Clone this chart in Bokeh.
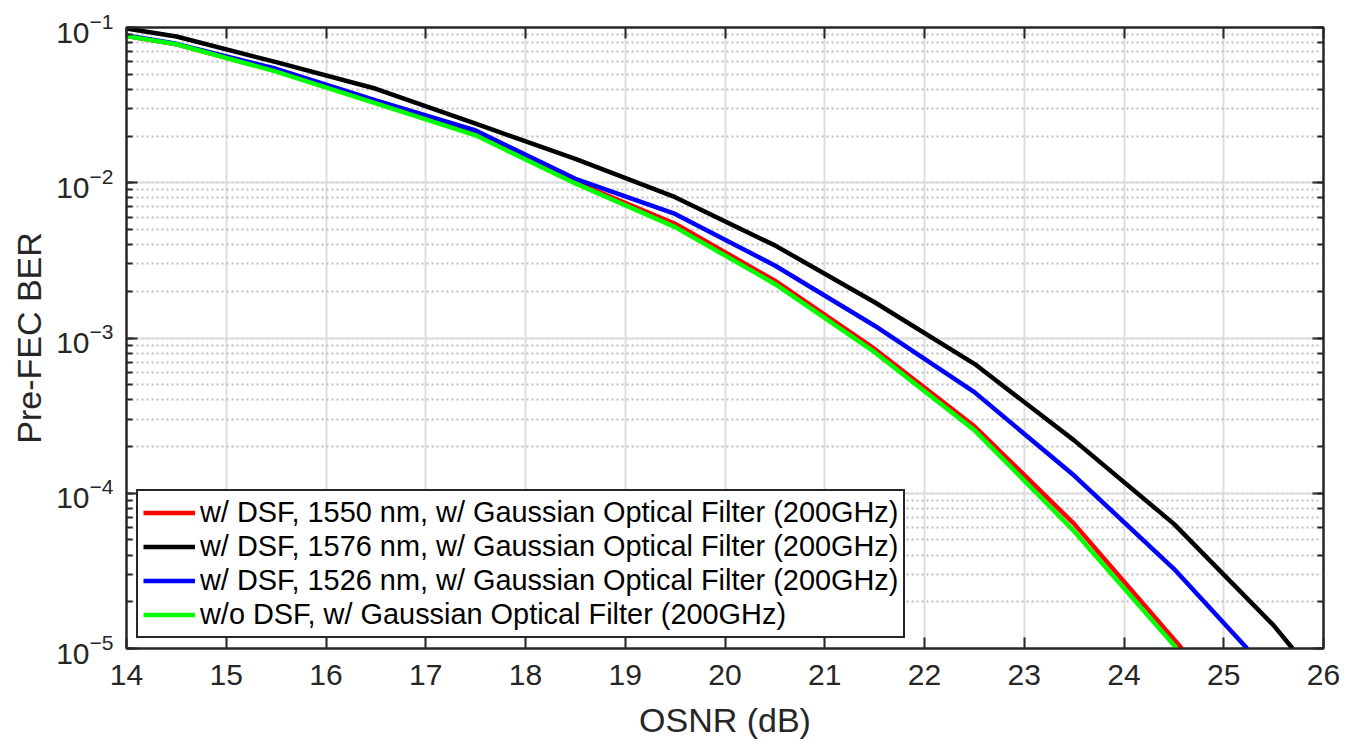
from bokeh.plotting import figure
from bokeh.models import (Range1d, LinearAxis, LogAxis, SingleIntervalTicker, LogTicker,
                          Legend, LegendItem, CustomJSTickFormatter)
from bokeh.embed import file_html
from bokeh.resources import INLINE

# ---- data ----
osnr_red = [14, 14.5, 15.5, 16.5, 17.5, 18.5, 19.5, 20.5, 21.5, 22.5, 23.5, 24.58]
ber_red = [0.088, 0.078, 0.0525, 0.0328, 0.0205, 0.0101, 0.00544, 0.00234, 8.5e-4, 2.7e-4, 6.35e-5, 1e-5]

osnr_black = [14, 14.5, 15.5, 16.5, 17.5, 18.5, 19.5, 20.5, 21.5, 22.5, 23.5, 24.5, 25.5, 25.69]
ber_black = [0.0985, 0.0875, 0.0598, 0.0403, 0.0240, 0.01426, 0.00807, 0.00395, 0.0017, 6.82e-4, 2.19e-4, 6.35e-5, 1.41e-5, 1e-5]

osnr_blue = [14, 14.5, 15.5, 16.5, 17.5, 18.5, 19.5, 20.5, 21.5, 22.5, 23.5, 24.5, 25.235]
ber_blue = [0.089, 0.0785, 0.0542, 0.0339, 0.0217, 0.0106, 0.0063, 0.00293, 0.0012, 4.48e-4, 1.30e-4, 3.26e-5, 1e-5]

osnr_green = [14, 14.5, 15.5, 16.5, 17.5, 18.5, 19.5, 20.5, 21.5, 22.5, 23.5, 24.53]
ber_green = [0.088, 0.078, 0.052, 0.0325, 0.0202, 0.0099, 0.00518, 0.00223, 8.1e-4, 2.55e-4, 5.7e-5, 1e-5]

labels = [
    "w/ DSF, 1550 nm, w/ Gaussian Optical Filter (200GHz)",
    "w/ DSF, 1576 nm, w/ Gaussian Optical Filter (200GHz)",
    "w/ DSF, 1526 nm, w/ Gaussian Optical Filter (200GHz)",
    "w/o DSF, w/ Gaussian Optical Filter (200GHz)",
]
colors = ["#ff0000", "#000000", "#0000ff", "#00ff00"]

FONT = "Liberation Sans"
DARK = "#262626"

p = figure(width=1346, height=745, y_axis_type="log",
           x_range=Range1d(14, 26), y_range=Range1d(1e-5, 1e-1),
           output_backend="svg", toolbar_location=None,
           min_border_left=126, min_border_right=23, min_border_top=27, min_border_bottom=97)
p.background_fill_color = "white"
p.border_fill_color = "white"
p.outline_line_color = DARK
p.outline_line_width = 2

series = [(osnr_red, ber_red), (osnr_black, ber_black), (osnr_blue, ber_blue), (osnr_green, ber_green)]
renderers = []
for (xs, ys), c in zip(series, colors):
    r = p.line(xs, ys, line_color=c, line_width=4.5)
    renderers.append(r)

# axes
p.xaxis.ticker = SingleIntervalTicker(interval=1)
for ax in p.xaxis:
    ax.axis_label = "OSNR (dB)"
for ax in p.yaxis:
    ax.axis_label = "Pre-FEC BER"

for ax in list(p.xaxis) + list(p.yaxis):
    ax.axis_label_text_font = FONT
    ax.axis_label_text_font_size = "34px"
    ax.axis_label_text_font_style = "normal"
    ax.axis_label_text_color = DARK
    ax.major_label_text_font = FONT
    ax.major_label_text_font_size = "30px"
    ax.major_label_text_color = DARK
    ax.axis_line_color = DARK
    ax.axis_line_width = 2
    ax.major_tick_line_color = DARK
    ax.major_tick_line_width = 2
    ax.major_tick_in = 11
    ax.major_tick_out = 0
    ax.minor_tick_line_color = DARK
    ax.minor_tick_line_width = 2
    ax.minor_tick_in = 6
    ax.minor_tick_out = 0

for ax in p.xaxis:
    ax.minor_tick_line_color = None
    ax.major_label_standoff = 16
    ax.axis_label_standoff = 13
for ax in p.yaxis:
    ax.major_label_standoff = 13
    ax.axis_label_standoff = 5

# top and right axes (ticks only)
top = LinearAxis(ticker=SingleIntervalTicker(interval=1),
                 formatter=CustomJSTickFormatter(code="return '';"),
                 major_label_standoff=0, axis_line_color=DARK, axis_line_width=2,
                 major_tick_line_color=DARK, major_tick_line_width=2,
                 major_tick_in=11, major_tick_out=0, minor_tick_line_color=None)
right = LogAxis(ticker=LogTicker(), formatter=CustomJSTickFormatter(code="return '';"),
                major_label_standoff=0, axis_line_color=DARK, axis_line_width=2,
                major_tick_line_color=DARK, major_tick_line_width=2,
                major_tick_in=11, major_tick_out=0,
                minor_tick_line_color=DARK, minor_tick_line_width=2,
                minor_tick_in=6, minor_tick_out=0)
p.add_layout(top, "above")
p.add_layout(right, "right")

# grids
p.xgrid.grid_line_color = "#dedede"
p.xgrid.grid_line_width = 2
p.ygrid.grid_line_color = "#dedede"
p.ygrid.grid_line_width = 2
p.ygrid.minor_grid_line_color = "#bdbdbd"
p.ygrid.minor_grid_line_width = 2
p.ygrid.minor_grid_line_dash = "2 3"

legend = Legend(items=[LegendItem(label=l, renderers=[r]) for l, r in zip(labels, renderers)],
                location="bottom_left")
legend.label_text_font = FONT
legend.label_text_font_size = "28.9px"
legend.label_text_color = "#000000"
legend.glyph_width = 52
legend.glyph_height = 31
legend.label_height = 31
legend.label_standoff = 5
legend.spacing = 1
legend.padding = 5
legend.margin = 10
legend.border_line_color = DARK
legend.border_line_alpha = 1
legend.border_line_width = 2.5
legend.background_fill_color = "white"
legend.background_fill_alpha = 1
p.add_layout(legend, "center")

open("out.html", "w").write(file_html(p, INLINE))
